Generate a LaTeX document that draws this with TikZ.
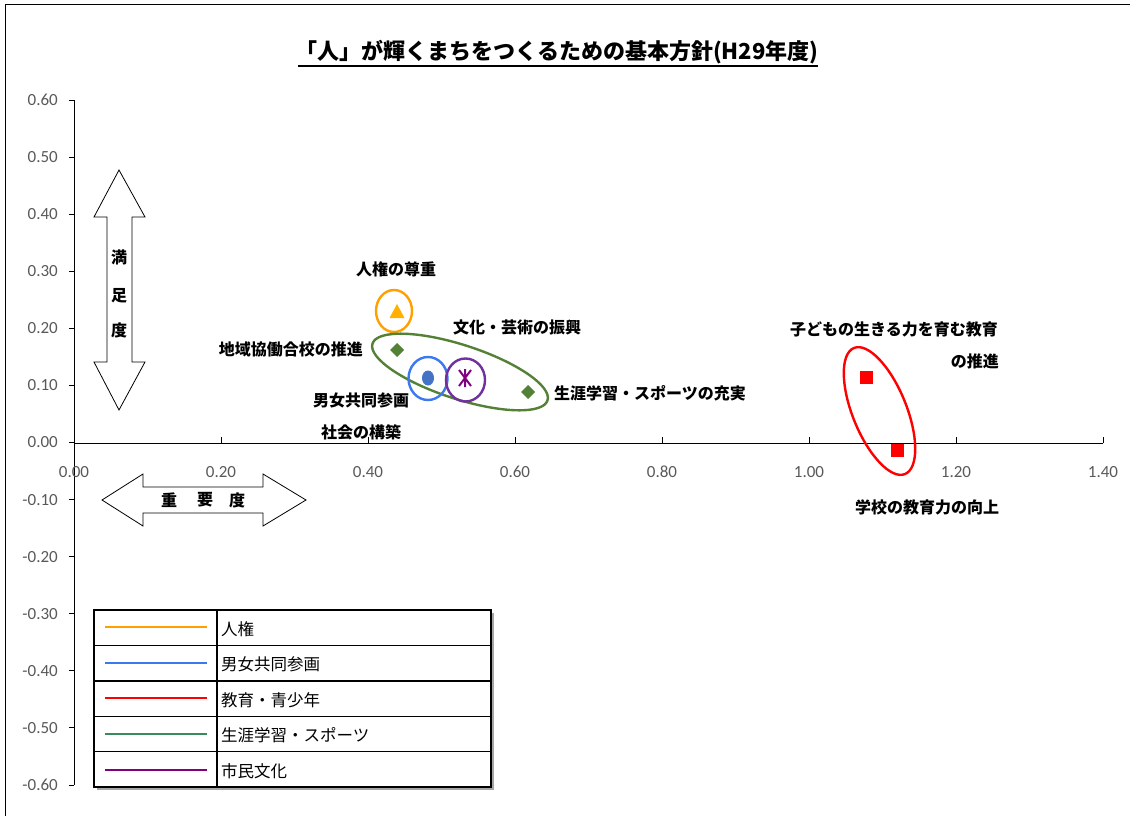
\documentclass[tikz,border=0pt]{standalone}
\usepackage{fontspec}
\setmainfont{Noto Sans CJK JP}
\newfontfamily\numfont{Carlito}
\definecolor{cOrange}{HTML}{FFA000}
\definecolor{cTri}{HTML}{FFB000}
\definecolor{cBlue}{HTML}{3C78F0}
\definecolor{cDot}{HTML}{4472C4}
\definecolor{cRed}{HTML}{FF0000}
\definecolor{cGreenL}{HTML}{3A8A60}
\definecolor{cGreen}{HTML}{538135}
\definecolor{cPurple}{HTML}{7030A0}
\definecolor{cMark}{HTML}{800080}
\definecolor{cNum}{HTML}{595959}
\begin{document}
\begin{tikzpicture}[x=1pt,y=-1pt,
  lbl/.style={inner sep=0pt,font=\fontsize{16}{18}\selectfont\bfseries},
  lgd/.style={inner sep=0pt,anchor=west,font=\fontsize{16.5}{19}\selectfont},
  num/.style={inner sep=0pt,text=cNum,font=\numfont\fontsize{17}{19}\selectfont},
  ring/.style={line width=2.4pt},
  lgline/.style={line width=2.8pt},
  bigarrow/.style={draw=black,fill=white,line width=0.8pt,line join=miter}]
\useasboundingbox (0,0) rectangle (1130,816);
% frame
\draw[line width=1pt] (5.5,816) -- (5.5,5) -- (1130,5);
% title
\node[inner sep=0pt,font=\fontsize{22}{26}\selectfont\bfseries] (title) at (557,52) {「人」が輝くまちをつくるための基本方針(H29年度)};
\draw[line width=1.4pt] (298,66) -- (818,66);
% axes
\draw[line width=0.8pt] (74,100) -- (74,785);
\foreach \i in {0,...,12} {
  \pgfmathsetmacro{\yy}{100+\i*57.08}
  \draw[line width=0.8pt] (69,\yy) -- (74,\yy);
}
\foreach \v/\t in {0/0.60,1/0.50,2/0.40,3/0.30,4/0.20,5/0.10,6/0.00,7/-0.10,8/-0.20,9/-0.30,10/-0.40,11/-0.50,12/-0.60} {
  \pgfmathsetmacro{\yy}{100+\v*57.08}
  \node[num,anchor=east] (yl\v) at (58,\yy) {\t};
}
\draw[line width=0.8pt] (74,443) -- (1103,443);
\foreach \i in {0,...,7} {
  \pgfmathsetmacro{\xx}{74+\i*147}
  \draw[line width=0.8pt] (\xx,443) -- (\xx,437);
}
% horizontal double arrow
\draw[bigarrow] (102,500) -- (143,474) -- (143,487) -- (263,487) -- (263,474) -- (306,500)
  -- (263,526) -- (263,513) -- (143,513) -- (143,526) -- cycle;
\node[lbl] (h1) at (169,500) {重};
\node[lbl] (h2) at (205,500) {要};
\node[lbl] (h3) at (237,500) {度};
\foreach \v/\t in {0/0.00,1/0.20,2/0.40,3/0.60,4/0.80,5/1.00,6/1.20,7/1.40} {
  \pgfmathsetmacro{\xx}{74+\v*147}
  \node[num] (xl\v) at (\xx,472) {\t};
}
% vertical double arrow
\draw[bigarrow] (119,170) -- (145,217) -- (132,217) -- (132,362) -- (145,362) -- (119,410)
  -- (94,362) -- (107,362) -- (107,217) -- (94,217) -- cycle;
\node[lbl] (v1) at (119,257) {満};
\node[lbl] (v2) at (119,296) {足};
\node[lbl] (v3) at (119,330) {度};
% rings
\draw[ring,cOrange] (394,311) ellipse [x radius=18pt, y radius=21pt];
\draw[ring,cGreen] (460,372) ellipse [x radius=92pt, y radius=27pt, rotate=-18];
\draw[ring,cBlue] (428,378.5) ellipse [x radius=19.5pt, y radius=21.5pt];
\draw[ring,cPurple] (465.5,380) ellipse [x radius=19.5pt, y radius=21.5pt];
\draw[ring,cRed] (879.5,411) ellipse [x radius=68pt, y radius=27pt, rotate=-68];
% markers
\fill[cTri] (397,304) -- (404.5,318) -- (389.5,318) -- cycle;
\node[inner sep=0pt] (p1) at (397,312) {};
\fill[cGreen] (397,343) -- (404,350) -- (397,357) -- (390,350) -- cycle;
\node[inner sep=0pt] (p2) at (397,350) {};
\fill[cDot] (428,378) ellipse [x radius=6pt, y radius=7.5pt];
\node[inner sep=0pt] (p3) at (428,378) {};
\begin{scope}[shift={(465,378)}]
  \draw[cMark,line width=2pt] (-6,-8) -- (6,8) (6,-8) -- (-6,8) (0,-9) -- (0,9);
\end{scope}
\node[inner sep=0pt] (p4) at (465,378) {};
\fill[cGreen] (528,385) -- (535,392) -- (528,399) -- (521,392) -- cycle;
\node[inner sep=0pt] (p5) at (528,392) {};
\fill[cRed] (859.5,370.5) rectangle (872.5,383.5);
\node[inner sep=0pt] (p6) at (866,377) {};
\fill[cRed] (890.5,443.5) rectangle (903.5,456.5);
\node[inner sep=0pt] (p7) at (897,450) {};
% labels
\node[lbl] (l1) at (396,269) {人権の尊重};
\node[lbl] (l2) at (517,327) {文化・芸術の振興};
\node[lbl,anchor=east] (l3) at (363,349) {地域協働合校の推進};
\node[lbl] (l4) at (361,400) {男女共同参画};
\node[lbl] (l5) at (361,432) {社会の構築};
\node[lbl,anchor=west] (l6) at (554,393) {生涯学習・スポーツの充実};
\node[lbl] (l7) at (894,329) {子どもの生きる力を育む教育};
\node[lbl,anchor=east] (l8) at (999,361) {の推進};
\node[lbl] (l9) at (927,507) {学校の教育力の向上};
% legend
\fill[black!35] (97,613) rectangle (494,790);
\draw[line width=1.4pt,fill=white] (94,610) rectangle (491,787);
\draw[line width=1.4pt] (217,610) -- (217,787);
\foreach \yy in {645.4,680.8,716.2,751.6} \draw[line width=1.4pt] (94,\yy) -- (491,\yy);
\draw[lgline,cOrange] (105,627) -- (207,627);
\draw[lgline,cBlue] (105,663) -- (207,663);
\draw[lgline,cRed] (105,698) -- (207,698);
\draw[lgline,cGreenL] (105,734) -- (207,734);
\draw[lgline,cMark] (105,770) -- (207,770);
\node[lgd] (g1) at (221,629) {人権};
\node[lgd] (g2) at (221,664) {男女共同参画};
\node[lgd] (g3) at (221,700) {教育・青少年};
\node[lgd] (g4) at (221,735) {生涯学習・スポーツ};
\node[lgd] (g5) at (221,771) {市民文化};
\end{tikzpicture}
\end{document}
